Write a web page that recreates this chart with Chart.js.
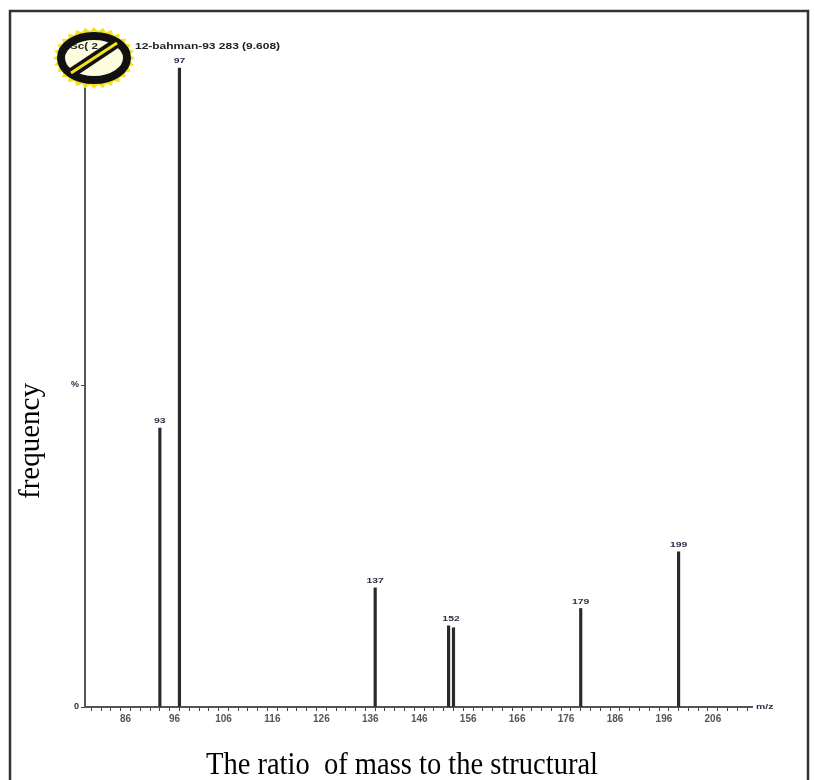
<!DOCTYPE html>
<html>
<head>
<meta charset="utf-8">
<script src="https://cdn.jsdelivr.net/npm/chart.js@4.4.1/dist/chart.umd.min.js"></script>
<style>
    html, body { margin: 0; padding: 0; background: #fff; }
    #wrap { width: 814px; height: 780px; position: relative; }
</style>
</head>
<body>
<div id="wrap"><canvas id="massChart"></canvas></div>
<script>
// peaks (m/z, relative intensity %)
var massValues = [93, 97, 137, 152, 153, 179, 199];
var intensityValues = [43.3, 99.2, 18.5, 12.6, 12.3, 15.3, 24.1];
var peakLabels = ['93', '97', '137', '152', '', '179', '199'];
var xTickLabels = [86, 96, 106, 116, 126, 136, 146, 156, 166, 176, 186, 196, 206];
var yTickLabels = { 0: '0', 50: '%' };

var X_MIN = 77.7, X_MAX = 214;

// text squeezed/stretched horizontally, like the scanned original
function wideText(ctx, text, x, y, sx) {
    ctx.save();
    ctx.translate(x, y);
    ctx.scale(sx, 1);
    ctx.fillText(text, 0, 0);
    ctx.restore();
}

var decorPlugin = {
    id: 'decor',
    afterDraw: function (chart) {
        var ctx = chart.ctx,
            xs = chart.scales.x,
            ys = chart.scales.y,
            meta = chart.getDatasetMeta(0),
            i;

        ctx.save();

        // outer frame
        ctx.strokeStyle = '#333';
        ctx.lineWidth = 2.5;
        ctx.strokeRect(10, 11, 798, 790);

        // peak labels
        ctx.fillStyle = '#2b2f45';
        ctx.font = 'bold 8px "Liberation Sans", Arial';
        ctx.textAlign = 'center';
        ctx.textBaseline = 'bottom';
        for (i = 0; i < massValues.length; i++) {
            if (!peakLabels[i]) continue;
            var bar = meta.data[i];
            var lx = bar.x;
            if (massValues[i] === 152) lx = (xs.getPixelForValue(152) + xs.getPixelForValue(153)) / 2;
            wideText(ctx, peakLabels[i], lx, bar.y - 3, 1.3);
        }

        // m/z label
        ctx.textAlign = 'left';
        ctx.textBaseline = 'middle';
        wideText(ctx, 'm/z', xs.right + 4, ys.bottom, 1.3);

        // header text
        ctx.fillStyle = '#222';
        ctx.font = 'bold 9px "Liberation Sans", Arial';
        wideText(ctx, '12-bahman-93 283 (9.608)', 135, 47, 1.33);

        // axis titles
        ctx.fillStyle = '#000';
        ctx.font = '31px "Liberation Serif", "Times New Roman", serif';
        ctx.textAlign = 'center';
        ctx.textBaseline = 'alphabetic';
        wideText(ctx, 'The ratio  of mass to the structural', 402, 774, 0.92);

        ctx.font = '29px "Liberation Serif", "Times New Roman", serif';
        ctx.save();
        ctx.translate(39, 441);
        ctx.rotate(-Math.PI / 2);
        ctx.fillText('frequency', 0, 0);
        ctx.restore();

        // logo stamp
        var cx = 94, cy = 58, n = 28, k;
        ctx.fillStyle = '#f4e21a';
        ctx.beginPath();
        for (k = 0; k < n * 2; k++) {
            var a = k * Math.PI / n,
                big = k % 2 === 0;
            ctx.lineTo(cx + (big ? 41 : 36) * Math.cos(a), cy + (big ? 31 : 27) * Math.sin(a));
        }
        ctx.closePath();
        ctx.fill();

        ctx.fillStyle = 'rgba(255,255,245,0.9)';
        ctx.beginPath();
        ctx.ellipse(cx, cy, 30, 20, 0, 0, Math.PI * 2);
        ctx.fill();
        ctx.fillStyle = '#222';
        ctx.font = 'bold 9px "Liberation Sans", Arial';
        ctx.textAlign = 'left';
        ctx.textBaseline = 'middle';
        wideText(ctx, 'Sc( 2', 70, 47, 1.3);

        ctx.strokeStyle = '#111';
        ctx.lineWidth = 8;
        ctx.beginPath();
        ctx.ellipse(cx, cy, 33, 22, 0, 0, Math.PI * 2);
        ctx.stroke();

        ctx.lineWidth = 10;
        ctx.beginPath();
        ctx.moveTo(cx - 24, cy + 16);
        ctx.lineTo(cx + 24, cy - 16);
        ctx.stroke();
        ctx.strokeStyle = '#f4e21a';
        ctx.lineWidth = 3;
        ctx.beginPath();
        ctx.moveTo(cx - 23, cy + 15);
        ctx.lineTo(cx + 23, cy - 15);
        ctx.stroke();

        ctx.restore();
    }
};

var createSpectrum = function () {
    return new Chart(document.getElementById('massChart').getContext('2d'), {
        type: 'bar',
        data: {
            datasets: [{
                data: massValues.map(function (m, i) { return { x: m, y: intensityValues[i] }; }),
                backgroundColor: '#2a2a2a',
                borderWidth: 0,
                barThickness: 2.5
            }]
        },
        options: {
            responsive: false,
            animation: false,
            layout: { padding: { top: 63, right: 62, left: 0, bottom: 0 } },
            plugins: { legend: { display: false }, tooltip: { enabled: false } },
            scales: {
                x: {
                    type: 'linear',
                    min: X_MIN,
                    max: X_MAX,
                    offset: false,
                    afterFit: function (s) { s.height = 73; },
                    afterBuildTicks: function (s) {
                        var t = [], v;
                        for (v = 78; v <= 212; v += 2) t.push({ value: v });
                        s.ticks = t;
                    },
                    grid: {
                        drawOnChartArea: false,
                        drawTicks: true,
                        tickLength: 4,
                        tickColor: '#444'
                    },
                    border: { display: true, color: '#555', width: 2 },
                    ticks: {
                        autoSkip: false,
                        maxRotation: 0,
                        padding: 2,
                        color: '#555',
                        font: { size: 10, weight: 'bold', family: '"Liberation Sans", Arial' },
                        callback: function (v) {
                            return xTickLabels.indexOf(v) >= 0 ? String(v) : '';
                        }
                    }
                },
                y: {
                    min: 0,
                    max: 100,
                    afterFit: function (s) { s.width = 85; },
                    afterBuildTicks: function (s) {
                        s.ticks = [{ value: 0 }, { value: 50 }];
                    },
                    grid: {
                        drawOnChartArea: false,
                        drawTicks: true,
                        tickLength: 4,
                        tickColor: '#444'
                    },
                    border: { display: true, color: '#555', width: 2 },
                    ticks: {
                        padding: 2,
                        color: '#2b2f45',
                        font: { size: 9, weight: 'bold', family: '"Liberation Sans", Arial' },
                        callback: function (v) { return yTickLabels[v] || ''; }
                    }
                }
            }
        },
        plugins: [decorPlugin]
    });
};

document.getElementById('massChart').width = 814;
document.getElementById('massChart').height = 780;
createSpectrum();
</script>
</body>
</html>
